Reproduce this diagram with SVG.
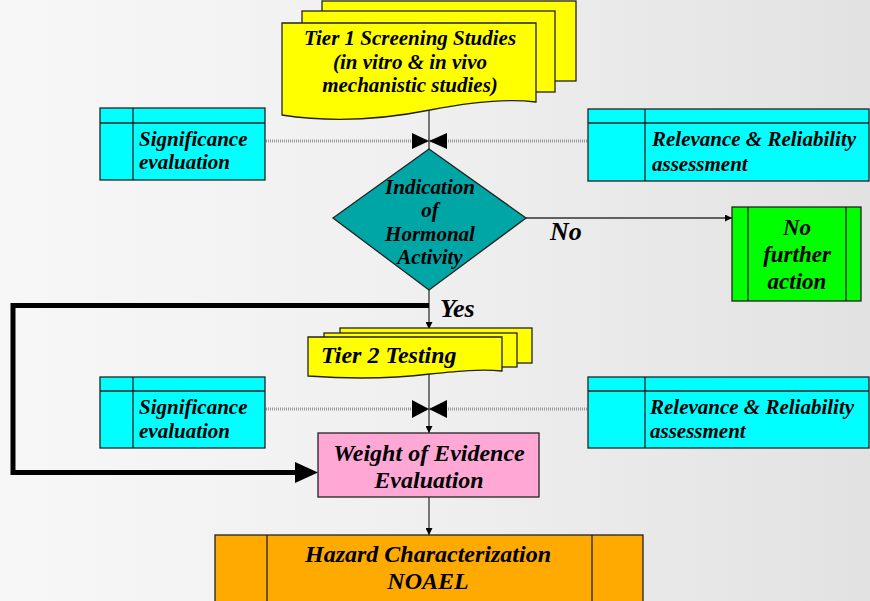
<svg xmlns="http://www.w3.org/2000/svg" width="870" height="601" viewBox="0 0 870 601">
<defs>
<linearGradient id="bg" x1="0" y1="0" x2="1" y2="0">
<stop offset="0" stop-color="#f7f7f7"/>
<stop offset="0.5" stop-color="#efefef"/>
<stop offset="1" stop-color="#e2e2e2"/>
</linearGradient>
<marker id="ah" viewBox="0 0 10 10" refX="10" refY="5" markerWidth="7" markerHeight="7" markerUnits="userSpaceOnUse" orient="auto">
<path d="M0,0 L10,5 L0,10 Z" fill="#000"/>
</marker>
</defs>
<style>
.t{font-family:"Liberation Serif","Times New Roman",serif;font-weight:bold;font-style:italic;fill:#000}
.s18{font-size:21px}
.s20{font-size:24px}
.s22{font-size:24px}
.s23{font-size:23px}
.s26{font-size:26px}
.box{stroke:#222;stroke-width:1.3}
.ln{stroke:#333;stroke-width:1.3;fill:none}
.dot{stroke:#999;stroke-width:3;stroke-dasharray:1 1;fill:none}
</style>
<rect width="870" height="601" fill="url(#bg)"/>

<g id="connectors">
<line class="dot" x1="266" y1="141" x2="588" y2="141"/>
<line class="dot" x1="266" y1="409" x2="588" y2="409"/>
<line class="ln" x1="429" y1="110" x2="429" y2="159" marker-end="url(#ah)"/>
<path d="M412,133 L412,149 L429,141 Z M447,133 L447,149 L429,141 Z" fill="#000"/>
<line class="ln" x1="526" y1="218" x2="732" y2="218" marker-end="url(#ah)"/>
<line class="ln" x1="429" y1="290" x2="429" y2="329" marker-end="url(#ah)"/>
<polyline points="429,305.5 13,305.5 13,472.5 300,472.5" fill="none" stroke="#000" stroke-width="5"/>
<path d="M295,462 L318,472.5 L295,483 Z" fill="#000"/>
<line class="ln" x1="429" y1="373" x2="429" y2="433" marker-end="url(#ah)"/>
<path d="M412,400 L412,418 L429,409 Z M447,400 L447,418 L429,409 Z" fill="#000"/>
<line class="ln" x1="429" y1="497" x2="429" y2="535" marker-end="url(#ah)"/>
<text class="t s26" x="550" y="240">No</text>
<text class="t s26" x="440" y="317">Yes</text>
</g>

<g id="tier1">
<rect class="box" x="322" y="1" width="254" height="80" fill="#ffff00"/>
<rect class="box" x="302" y="11" width="253" height="81" fill="#ffff00"/>
<path class="box" d="M282,23 H536 V102 C505,98 470,102 430,110 C390,118 340,124 282,115 Z" fill="#ffff00"/>
<text class="t s18" text-anchor="middle" x="410" y="45">Tier 1 Screening Studies</text>
<text class="t s18" text-anchor="middle" x="410" y="69">(in vitro &amp; in vivo</text>
<text class="t s18" text-anchor="middle" x="410" y="92">mechanistic studies)</text>
</g>

<g id="sig1">
<rect class="box" x="100" y="108" width="165" height="72" fill="#00ffff"/>
<line class="box" x1="100" y1="123" x2="265" y2="123"/>
<line class="box" x1="133" y1="108" x2="133" y2="180"/>
<text class="t s18" x="139" y="146">Significance</text>
<text class="t s18" x="139" y="169">evaluation</text>
</g>

<g id="rel1">
<rect class="box" x="588" y="109" width="281" height="72" fill="#00ffff"/>
<line class="box" x1="588" y1="123" x2="869" y2="123"/>
<line class="box" x1="645" y1="109" x2="645" y2="181"/>
<text class="t s18" x="652" y="146">Relevance &amp; Reliability</text>
<text class="t s18" x="652" y="171">assessment</text>
</g>

<g id="diamond">
<path class="box" d="M429,149 L526,218 L429,290 L333,218 Z" fill="#00a5a5"/>
<text class="t s18" text-anchor="middle" x="430" y="194">Indication</text>
<text class="t s18" text-anchor="middle" x="430" y="217">of</text>
<text class="t s18" text-anchor="middle" x="430" y="241">Hormonal</text>
<text class="t s18" text-anchor="middle" x="430" y="264">Activity</text>
</g>

<g id="nofurther">
<rect class="box" x="732" y="207" width="129" height="94" fill="#00ff00"/>
<line class="box" x1="748" y1="207" x2="748" y2="301"/>
<line class="box" x1="846" y1="207" x2="846" y2="301"/>
<text class="t s23" text-anchor="middle" x="797" y="235">No</text>
<text class="t s23" text-anchor="middle" x="797" y="262">further</text>
<text class="t s23" text-anchor="middle" x="797" y="289">action</text>
</g>

<g id="tier2">
<rect class="box" x="340" y="328" width="192" height="35" fill="#ffff00"/>
<rect class="box" x="324" y="333" width="193" height="34" fill="#ffff00"/>
<path class="box" d="M308,337 H502 V371 C480,369 460,371 430,374 C390,379 350,379 308,376 Z" fill="#ffff00"/>
<text class="t s20" x="321" y="363">Tier 2 Testing</text>
</g>

<g id="sig2">
<rect class="box" x="100" y="377" width="165" height="71" fill="#00ffff"/>
<line class="box" x1="100" y1="391" x2="265" y2="391"/>
<line class="box" x1="133" y1="377" x2="133" y2="448"/>
<text class="t s18" x="139" y="414">Significance</text>
<text class="t s18" x="139" y="438">evaluation</text>
</g>

<g id="rel2">
<rect class="box" x="588" y="377" width="281" height="71" fill="#00ffff"/>
<line class="box" x1="588" y1="391" x2="869" y2="391"/>
<line class="box" x1="645" y1="377" x2="645" y2="448"/>
<text class="t s18" x="650" y="414">Relevance &amp; Reliability</text>
<text class="t s18" x="650" y="438">assessment</text>
</g>

<g id="woe">
<rect class="box" x="318" y="433" width="221" height="64" fill="#ffa8d6"/>
<text class="t s22" text-anchor="middle" x="429" y="461">Weight of Evidence</text>
<text class="t s22" text-anchor="middle" x="429" y="488">Evaluation</text>
</g>

<g id="hazard">
<rect class="box" x="215" y="535" width="428" height="68" fill="#ffaa00"/>
<line class="box" x1="267" y1="535" x2="267" y2="601"/>
<line class="box" x1="592" y1="535" x2="592" y2="601"/>
<text class="t s22" text-anchor="middle" x="428" y="562">Hazard Characterization</text>
<text class="t s22" text-anchor="middle" x="428" y="589">NOAEL</text>
</g>
</svg>
